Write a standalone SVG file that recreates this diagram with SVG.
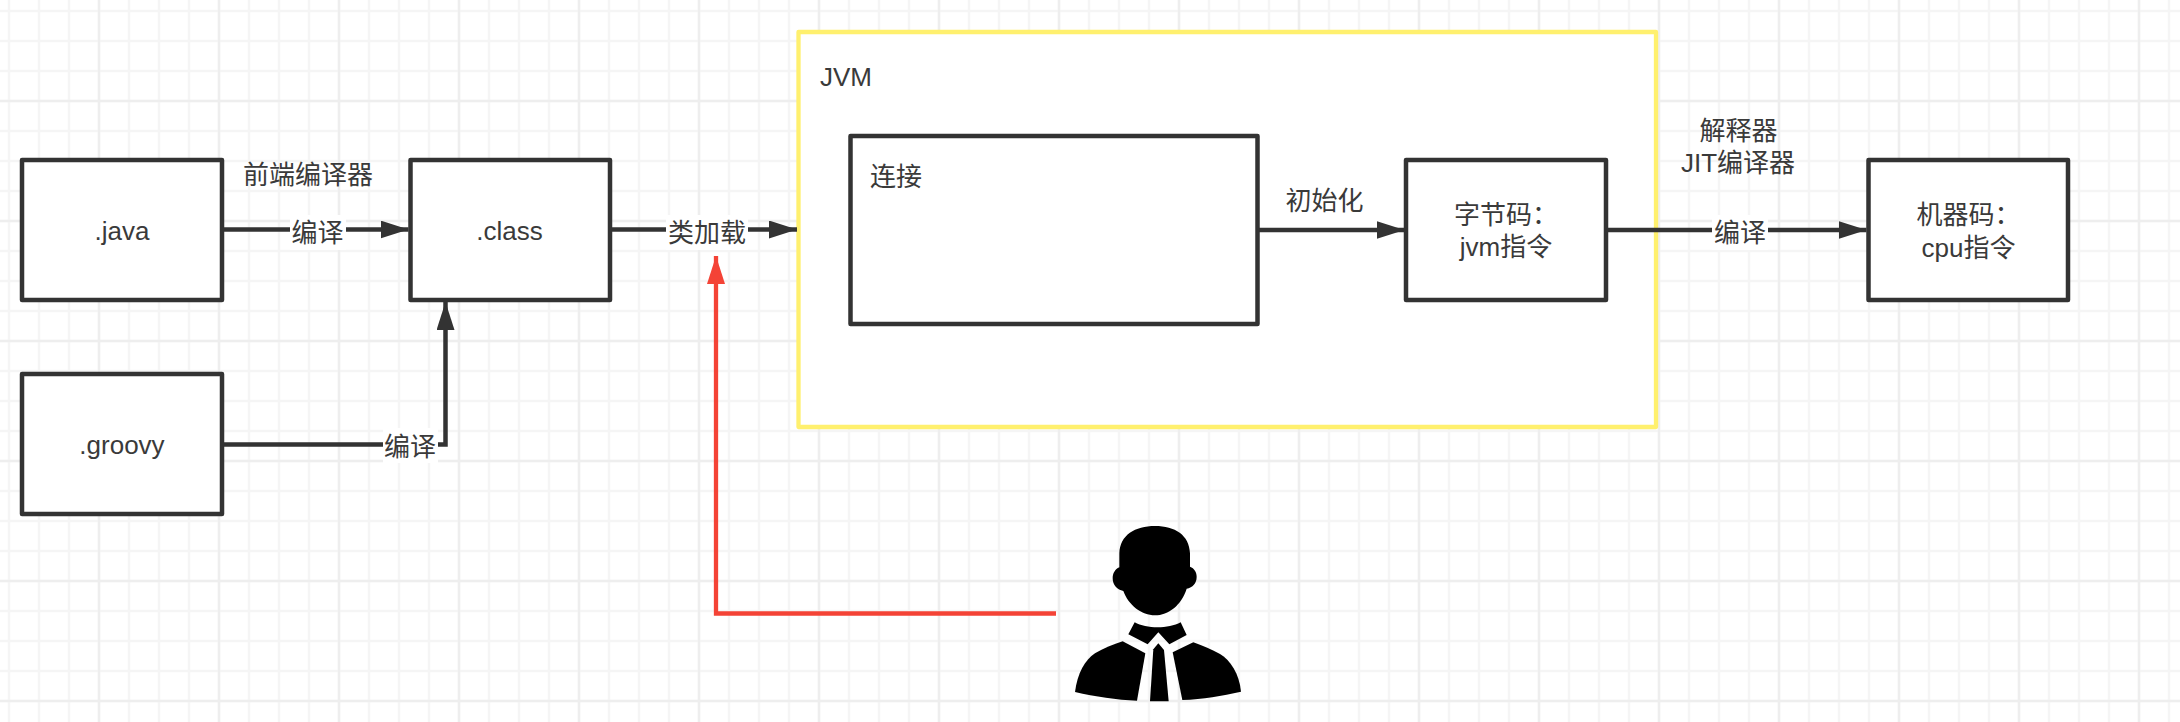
<svg xmlns="http://www.w3.org/2000/svg" width="2180" height="722" viewBox="0 0 2180 722">
<style>
text{font-family:"Liberation Sans","Noto Sans CJK SC",sans-serif;font-size:26px;fill:#3a3a3a;text-anchor:middle}
.box{fill:#fff;stroke:#333;stroke-width:4.5;stroke-linejoin:round}
.line{fill:none;stroke:#333;stroke-width:4.5}
.red{fill:none;stroke:#f44336;stroke-width:4.3}
.bg{fill:#fff}
</style>
<defs>
<pattern id="minor" width="30" height="30" patternUnits="userSpaceOnUse" x="-6" y="-4">
<path d="M15 0V30M0 15H30" fill="none" stroke="#f5f5f5" stroke-width="2.4"/>
</pattern>
<pattern id="major" width="120" height="120" patternUnits="userSpaceOnUse" x="39" y="41">
<path d="M60 0V120M0 60H120" fill="none" stroke="#eeeeee" stroke-width="2.4"/>
</pattern>
<marker id="arrow" markerUnits="userSpaceOnUse" markerWidth="28" markerHeight="18" refX="28" refY="9" orient="auto"><path d="M0 0L28 9L0 18Z" fill="#333"/></marker>
<marker id="arrow-red" markerUnits="userSpaceOnUse" markerWidth="28" markerHeight="18" refX="28" refY="9" orient="auto"><path d="M0 0L28 9L0 18Z" fill="#f44336"/></marker>
</defs>
<rect width="2180" height="722" fill="#fff"/>
<rect width="2180" height="722" fill="url(#minor)"/>
<rect width="2180" height="722" fill="url(#major)"/>
<g id="jvm">
<rect x="798.5" y="32" width="857.5" height="395" style="fill:#fff;stroke:#fff06e;stroke-width:4.3;stroke-linejoin:round"/>
<text x="846" y="86">JVM</text>
</g>
<g id="java"><rect class="box" x="22" y="160" width="200" height="140"/><text x="122" y="240">.java</text></g>
<g id="class"><rect class="box" x="410.5" y="160" width="199.5" height="140"/><text x="509.5" y="240">.class</text></g>
<g id="groovy"><rect class="box" x="22" y="374" width="200" height="140"/><text x="122" y="454">.groovy</text></g>
<g id="link"><rect class="box" x="850.5" y="136" width="407" height="188"/><text x="896" y="185.5">连接</text></g>
<g id="bytecode"><rect class="box" x="1406" y="160" width="200" height="140"/><text x="1506" y="224">字节码：</text><text x="1506" y="256">jvm指令</text></g>
<g id="machine"><rect class="box" x="1868.5" y="160" width="199.5" height="140"/><text x="1968.5" y="224">机器码：</text><text x="1968.5" y="257">cpu指令</text></g>
<g id="connectors">
<path class="line" d="M223 229.5H408.5" marker-end="url(#arrow)"/>
<path class="line" d="M223 444.5H445.5V302" marker-end="url(#arrow)"/>
<path class="line" d="M611 229.5H797" marker-end="url(#arrow)"/>
<path class="line" d="M1259 230H1404.5" marker-end="url(#arrow)"/>
<path class="line" d="M1608 230H1866.5" marker-end="url(#arrow)"/>
<path class="red" d="M1056 613.5H716V256" marker-end="url(#arrow-red)"/>
<rect class="bg" x="290" y="215" width="56" height="35"/><text x="317.5" y="242">编译</text>
<rect class="bg" x="383" y="428" width="55" height="35"/><text x="410" y="456">编译</text>
<rect class="bg" x="666" y="215" width="82" height="35"/><text x="707" y="242">类加载</text>
<rect class="bg" x="1712" y="215" width="56" height="35"/><text x="1740" y="242">编译</text>
<text x="308" y="184">前端编译器</text>
<text x="1324.5" y="210">初始化</text>
<text x="1738.5" y="140">解释器</text>
<text x="1738" y="172">JIT编译器</text>
</g>
<g id="person" transform="translate(1040 510) scale(.33333)" fill="#000">
<path d="M345 48C285 48 240 75 238 130L238 172C225 178 218 190 218 205C218 225 232 240 250 243C265 285 305 316 345 316C385 316 425 285 440 236C458 232 470 220 470 200C470 186 463 175 450 170L450 130C448 75 405 48 345 48Z"/>
<path d="M284 337C320 357 385 357 422 337L440 375L388 403L355 367L323 403L265 373Z"/>
<path d="M248 394L316 430L291 572C230 570 165 560 105 546C112 490 135 450 165 430C190 415 220 403 248 394Z"/>
<path d="M460 397L398 427L427 570C490 568 545 558 603 545C598 490 570 450 540 432C515 418 490 408 460 397Z"/>
<path d="M355 400L372 420L386 574H330L340 418Z"/>
</g>
</svg>
